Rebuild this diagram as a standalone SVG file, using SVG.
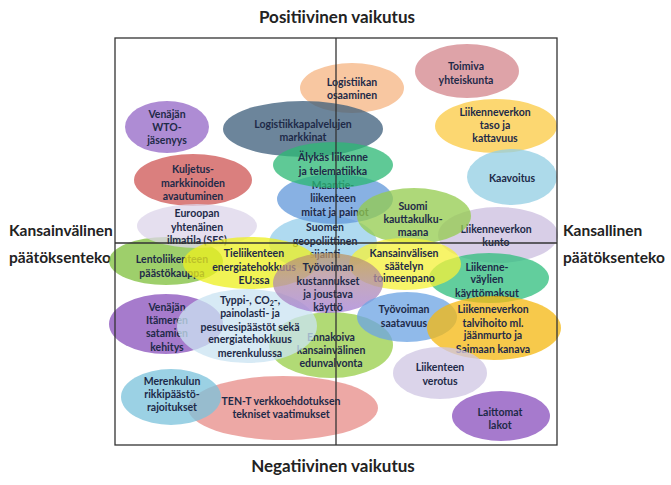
<svg xmlns="http://www.w3.org/2000/svg" width="671" height="485" viewBox="0 0 671 485">
<style>
.n ellipse{fill-opacity:.76}
.n text{font-family:Lato,"Liberation Sans",sans-serif;font-weight:bold;font-size:10.5px;fill:#1e2a48;text-anchor:middle}
.t{font-family:Lato,"Liberation Sans",sans-serif;font-weight:bold;fill:#222}
.ax{stroke:#333;stroke-width:1.3;fill:none}
</style>
<defs>
<linearGradient id="tk" x1="0" y1="0" x2="0" y2="1">
<stop offset="0" stop-color="#BE9862"/>
<stop offset="0.45" stop-color="#B28EA8"/>
<stop offset="1" stop-color="#A580D6"/>
</linearGradient>
</defs>
<rect width="671" height="485" fill="#fff"/>
<text class="t" x="337" y="23" font-size="17" text-anchor="middle">Positiivinen vaikutus</text>
<text class="t" x="333" y="472" font-size="17" text-anchor="middle">Negatiivinen vaikutus</text>
<text class="t" x="9" y="236" font-size="15.5">Kansainvälinen</text>
<text class="t" x="9" y="263" font-size="15.5">päätöksenteko</text>
<text class="t" x="563" y="236" font-size="15.5">Kansallinen</text>
<text class="t" x="563" y="263" font-size="15.5">päätöksenteko</text>

<g id="logistiikan-osaaminen" class="n"><ellipse cx="352" cy="88" rx="52" ry="25" fill="#F6B683"/><text><tspan x="352" y="86">Logistiikan</tspan><tspan x="352" y="99">osaaminen</tspan></text></g>
<g id="toimiva-yhteiskunta" class="n"><ellipse cx="467" cy="71" rx="52" ry="27" fill="#D4868D"/><text><tspan x="466" y="70">Toimiva</tspan><tspan x="466" y="84">yhteiskunta</tspan></text></g>
<g id="logistiikkapalvelujen-markkinat" class="n"><ellipse cx="303" cy="129" rx="80" ry="28" fill="#3E5F7B"/><text><tspan x="303" y="128">Logistiikkapalvelujen</tspan><tspan x="303" y="141">markkinat</tspan></text></g>
<g id="venajan-wto" class="n"><ellipse cx="167" cy="127" rx="42" ry="26" fill="#9468C6"/><text><tspan x="167" y="118">Venäjän</tspan><tspan x="167" y="131">WTO-</tspan><tspan x="167" y="144">jäsenyys</tspan></text></g>
<g id="liikenneverkon-taso" class="n"><ellipse cx="496" cy="126" rx="61" ry="27" fill="#FBCB45"/><text><tspan x="495" y="116">Liikenneverkon</tspan><tspan x="495" y="129">taso ja</tspan><tspan x="495" y="142">kattavuus</tspan></text></g>
<g id="kuljetusmarkkinoiden-avautuminen" class="n"><ellipse cx="193" cy="180" rx="59" ry="26" fill="#CE5756"/><text><tspan x="193" y="173">Kuljetus-</tspan><tspan x="193" y="187">markkinoiden</tspan><tspan x="193" y="200">avautuminen</tspan></text></g>
<g id="kaavoitus" class="n"><ellipse cx="512" cy="177" rx="45" ry="28" fill="#93CEE3"/><text><tspan x="512" y="182">Kaavoitus</tspan></text></g>
<g id="suomen-geopoliittinen-sijainti" class="n"><ellipse cx="323" cy="243" rx="54" ry="28" fill="#96CFEB"/><text><tspan x="325" y="231">Suomen</tspan><tspan x="325" y="245">geopoliittinen</tspan><tspan x="325" y="258">sijainti</tspan></text></g>
<g id="maantieliikenteen-mitat" class="n"><ellipse cx="335" cy="199" rx="58" ry="25" fill="#6298DA"/><text><tspan x="333" y="189">Maantie-</tspan><tspan x="333" y="202">liikenteen</tspan><tspan x="335" y="216">mitat ja painot</tspan></text></g>
<g id="alykas-liikenne" class="n"><ellipse cx="333" cy="165" rx="60" ry="23" fill="#2DB875"/><text><tspan x="333" y="161">Älykäs liikenne</tspan><tspan x="333" y="175">ja  telematiikka</tspan></text></g>
<g id="liikenneverkon-kunto" class="n"><ellipse cx="498" cy="235" rx="60" ry="28" fill="#CCBFE0"/><text><tspan x="496" y="233">Liikenneverkon</tspan><tspan x="496" y="246">kunto</tspan></text></g>
<g id="suomi-kauttakulkumaana" class="n"><ellipse cx="414" cy="216" rx="57" ry="28" fill="#95CC4F"/><text><tspan x="413" y="210">Suomi</tspan><tspan x="413" y="223">kauttakulku-</tspan><tspan x="413" y="236">maana</tspan></text></g>
<g id="lentoliikenteen-paastokauppa" class="n"><ellipse cx="166" cy="261" rx="57" ry="24" fill="#7FC03C"/><text><tspan x="172" y="263">Lentoliikenteen</tspan><tspan x="172" y="277">päästökauppa</tspan></text></g>
<g id="euroopan-ilmatila" class="n"><ellipse cx="197" cy="226" rx="60" ry="22" fill="#DDD5EA"/><text><tspan x="197" y="217">Euroopan</tspan><tspan x="197" y="231">yhtenäinen</tspan><tspan x="197" y="244">ilmatila (SES)</tspan></text></g>
<g id="tieliikenteen-energiatehokkuus" class="n"><ellipse cx="250" cy="263" rx="67" ry="26" fill="#EDEF1F"/><text><tspan x="254" y="257">Tieliikenteen</tspan><tspan x="254" y="271">energiatehokkuus</tspan><tspan x="254" y="284">EU:ssa</tspan></text></g>
<g id="liikennevaylien-kayttomaksut" class="n"><ellipse cx="489" cy="278" rx="60" ry="25" fill="#30BE7E"/><text><tspan x="487" y="271">Liikenne-</tspan><tspan x="487" y="283">väylien</tspan><tspan x="487" y="297">käyttömaksut</tspan></text></g>
<g id="kansainvalisen-saatelyn-toimeenpano" class="n"><ellipse cx="405" cy="264" rx="56" ry="26" fill="#F4F13A"/><text><tspan x="404" y="257">Kansainvälisen</tspan><tspan x="404" y="270">säätelyn</tspan><tspan x="404" y="282">toimeenpano</tspan></text></g>
<g id="venajan-itameren-satamien-kehitys" class="n"><ellipse cx="166" cy="324" rx="57" ry="30" fill="#8A52BC"/><text><tspan x="167" y="311">Venäjän</tspan><tspan x="167" y="324">Itämeren</tspan><tspan x="167" y="337">satamien</tspan><tspan x="167" y="351">kehitys</tspan></text></g>
<g id="ennakoiva-edunvalvonta" class="n"><ellipse cx="331" cy="345" rx="62" ry="33" fill="#99CF4A"/><text><tspan x="331" y="341">Ennakoiva</tspan><tspan x="331" y="354">kansainvälinen</tspan><tspan x="331" y="367">edunvalvonta</tspan></text></g>
<g id="typpi-co2-paastot" class="n"><ellipse cx="247" cy="326" rx="70" ry="37" fill="#CAE4F2"/><text><tspan x="250" y="304">Typpi-, CO<tspan font-size="7" dy="2">2</tspan><tspan dy="-2">-,</tspan></tspan><tspan x="250" y="317">painolasti- ja</tspan><tspan x="250" y="331">pesuvesipäästöt sekä</tspan><tspan x="250" y="343">energiatehokkuus</tspan><tspan x="250" y="357">merenkulussa</tspan></text></g>
<g id="tyovoiman-kustannukset" class="n"><ellipse cx="328" cy="283" rx="55" ry="30" fill="url(#tk)"/><text><tspan x="328" y="271">Työvoiman</tspan><tspan x="328" y="285">kustannukset</tspan><tspan x="328" y="298">ja joustava</tspan><tspan x="328" y="311">käyttö</tspan></text></g>
<g id="tyovoiman-saatavuus" class="n"><ellipse cx="407" cy="317" rx="50" ry="25" fill="#6DA4E3"/><text><tspan x="404" y="313">Työvoiman</tspan><tspan x="404" y="327">saatavuus</tspan></text></g>
<g id="liikenneverkon-talvihoito" class="n"><ellipse cx="494" cy="328" rx="67" ry="32" fill="#F5B812"/><text><tspan x="493" y="313">Liikenneverkon</tspan><tspan x="493" y="327">talvihoito ml.</tspan><tspan x="493" y="339">jäänmurto ja</tspan><tspan x="493" y="353">Saimaan kanava</tspan></text></g>
<g id="liikenteen-verotus" class="n"><ellipse cx="440" cy="373" rx="47" ry="26" fill="#D0C6E3"/><text><tspan x="440" y="371">Liikenteen</tspan><tspan x="440" y="385">verotus</tspan></text></g>
<g id="ten-t-vaatimukset" class="n"><ellipse cx="283" cy="408" rx="95" ry="32" fill="#E78C89"/><text><tspan x="281" y="405">TEN-T verkkoehdotuksen</tspan><tspan x="281" y="418">tekniset vaatimukset</tspan></text></g>
<g id="merenkulun-rikkipaastorajoitukset" class="n"><ellipse cx="171" cy="397" rx="50" ry="28" fill="#7CC2DC"/><text><tspan x="172" y="385">Merenkulun</tspan><tspan x="172" y="398">rikkipäästö-</tspan><tspan x="172" y="411">rajoitukset</tspan></text></g>
<g id="laittomat-lakot" class="n"><ellipse cx="501" cy="416" rx="49" ry="25" fill="#8A50BD"/><text><tspan x="500" y="416">Laittomat</tspan><tspan x="500" y="429">lakot</tspan></text></g>

<g id="connectors">
<rect class="ax" x="115" y="38" width="442" height="407"/>
<line class="ax" x1="336" y1="38" x2="336" y2="445"/>
<line class="ax" x1="115" y1="243" x2="557" y2="243"/>
</g>
</svg>
